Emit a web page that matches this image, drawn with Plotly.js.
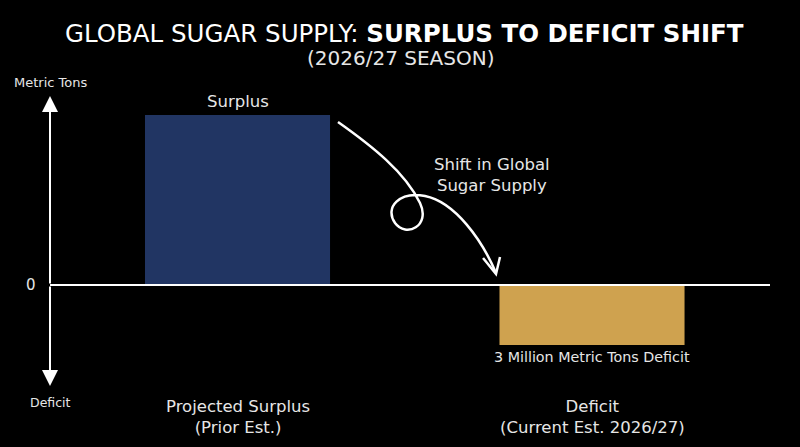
<!DOCTYPE html>
<html>
<head>
<meta charset="utf-8">
<script src="https://cdn.plot.ly/plotly-3.0.1.min.js"></script>
<style>
  html, body { margin: 0; padding: 0; background: #000; }
  #chart { width: 800px; height: 447px; }
</style>
</head>
<body>
<div id="chart"></div>
<script>
// ---- Data ----
const categories = ["Projected Surplus<br>(Prior Est.)", "Deficit<br>(Current Est. 2026/27)"];
const values = [8.5, -3];            // million metric tons (surplus)
const barLabels = ["Surplus", "3 Million Metric Tons Deficit"];
const barColors = ["#213563", "#cfa24f"];
const positions = [0, 1];

const W = 800, H = 447;
const FONT = "DejaVu Sans, sans-serif";
const TXT = "#ffffff";
const SOFT = "#e6e6e6";

// pixel -> paper helpers for decorative elements
const px = v => v / W;
const py = v => 1 - v / H;

const trace = {
  type: "bar",
  x: positions,
  y: values,
  width: 0.522,
  marker: { color: barColors, line: { width: 0 } },
  hoverinfo: "skip",
  showlegend: false
};

const annotations = [];

// Bar value labels (above positive, below negative)
values.forEach((v, i) => {
  annotations.push({
    x: positions[i], y: v, xref: "x", yref: "y", xanchor: "center",
    text: barLabels[i], showarrow: false,
    yanchor: v >= 0 ? "bottom" : "top",
    yshift: v >= 0 ? 2 : -2,
    font: { family: FONT, size: v >= 0 ? 16.5 : 14.3, color: SOFT }
  });
});

// Category labels below
categories.forEach((c, i) => {
  annotations.push({
    x: positions[i], xref: "x", y: py(417), yref: "paper", xanchor: "center",
    text: c, showarrow: false, yanchor: "middle",
    font: { family: FONT, size: 16.5, color: SOFT }
  });
});

// Title and subtitle
annotations.push({
  x: px(404), y: py(33), xref: "paper", yref: "paper", xanchor: "center",
  text: "GLOBAL SUGAR SUPPLY: <b>SURPLUS TO DEFICIT SHIFT</b>",
  showarrow: false, yanchor: "middle",
  font: { family: FONT, size: 24.5, color: TXT }
});
annotations.push({
  x: px(400), y: py(58), xref: "paper", yref: "paper", xanchor: "center",
  text: "(2026/27 SEASON)", showarrow: false, yanchor: "middle",
  font: { family: FONT, size: 20, color: SOFT }
});

// Axis labels
annotations.push({ x: px(50), y: py(82), xref: "paper", yref: "paper", xanchor: "center",
  text: "Metric Tons", showarrow: false, yanchor: "middle",
  font: { family: FONT, size: 13, color: SOFT } });
annotations.push({ x: px(50), y: py(402), xref: "paper", yref: "paper", xanchor: "center",
  text: "Deficit", showarrow: false, yanchor: "middle",
  font: { family: FONT, size: 12.5, color: SOFT } });
annotations.push({ x: px(31), y: 0, xref: "paper", yref: "y", xanchor: "center",
  text: "0", showarrow: false, yanchor: "middle",
  font: { family: FONT, size: 15, color: SOFT } });

// Shift annotation text
annotations.push({ x: px(492), y: py(175), xref: "paper", yref: "paper", xanchor: "center",
  text: "Shift in Global<br>Sugar Supply", showarrow: false, yanchor: "middle",
  font: { family: FONT, size: 16.5, color: SOFT } });

// Vertical axis arrows
annotations.push({ x: px(50), y: py(96), xref: "paper", yref: "paper", ax: 0, ay: 189,
  showarrow: true, arrowhead: 2, arrowsize: 1.6,
  arrowwidth: 2, arrowcolor: "#ffffff", text: "" });
annotations.push({ x: px(50), y: py(386), xref: "paper", yref: "paper", ax: 0, ay: -101,
  showarrow: true, arrowhead: 2, arrowsize: 1.6,
  arrowwidth: 2, arrowcolor: "#ffffff", text: "" });

// Curved looping arrow path (decorative), in paper coords
function P(x, y) { return px(x).toFixed(4) + "," + py(y).toFixed(4); }
const curve = "M " + P(338,122) +
  " C " + P(372,146) + " " + P(405,172) + " " + P(420,203) +
  " C " + P(431,226) + " " + P(406,238) + " " + P(395,223) +
  " C " + P(384,207) + " " + P(400,191) + " " + P(425,196) +
  " C " + P(455,202) + " " + P(482,240) + " " + P(496,273);
const head = "M " + P(483,258) + " L " + P(496,274) + " L " + P(500,257);

const shapes = [
  { type: "line", xref: "paper", yref: "y", x0: px(50), x1: px(770), y0: 0, y1: 0,
    line: { color: "#ffffff", width: 2 }, layer: "above" },
  { type: "path", xref: "paper", yref: "paper", path: curve,
    line: { color: "#ffffff", width: 2.5 } },
  { type: "path", xref: "paper", yref: "paper", path: head,
    line: { color: "#ffffff", width: 2.5 } }
];

const layout = {
  width: W, height: H,
  margin: { l: 0, r: 0, t: 0, b: 0, pad: 0 },
  paper_bgcolor: "#000000",
  plot_bgcolor: "#000000",
  xaxis: { range: [-0.67, 1.5867], visible: false, fixedrange: true },
  yaxis: { range: [-8.1, 14.25], visible: false, fixedrange: true, zeroline: false },
  showlegend: false,
  annotations: annotations,
  shapes: shapes
};

Plotly.newPlot("chart", [trace], layout, { staticPlot: true, displayModeBar: false });
</script>
</body>
</html>
